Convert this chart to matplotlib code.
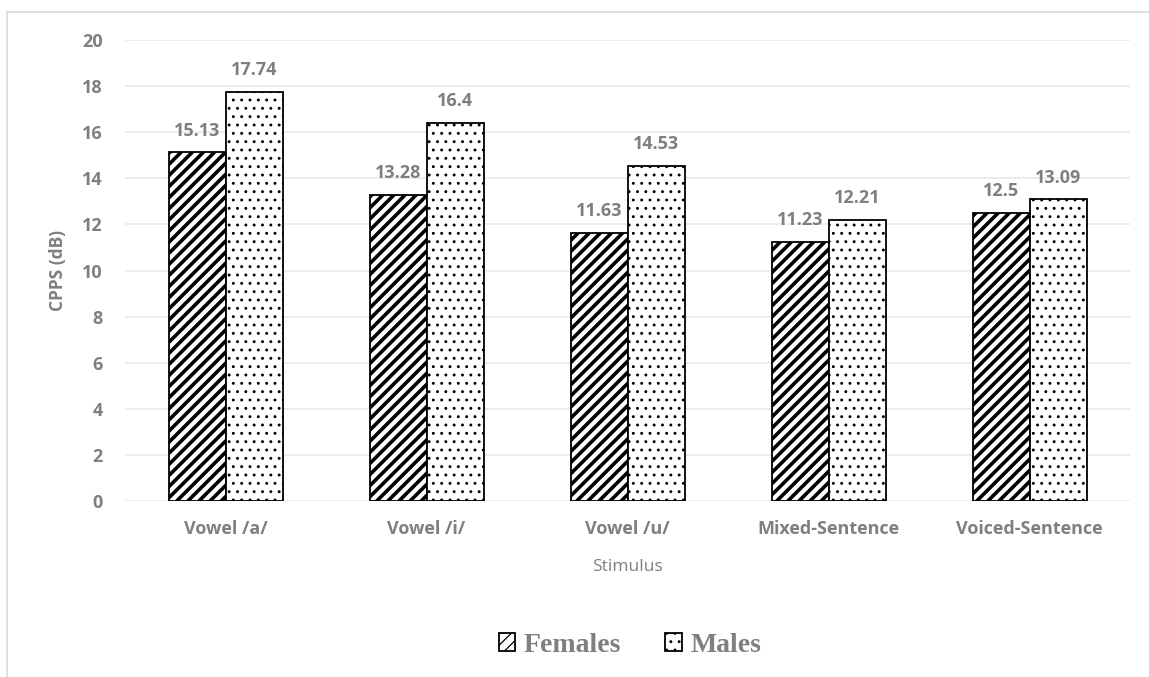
import matplotlib
matplotlib.use("Agg")
import matplotlib.pyplot as plt
from matplotlib.lines import Line2D
import numpy as np

categories = ["Vowel /a/", "Vowel /i/", "Vowel /u/", "Mixed-Sentence", "Voiced-Sentence"]
females = [15.13, 13.28, 11.63, 11.23, 12.5]
males = [17.74, 16.4, 14.53, 12.21, 13.09]
female_labels = ["15.13", "13.28", "11.63", "11.23", "12.5"]
male_labels = ["17.74", "16.4", "14.53", "12.21", "13.09"]
y_ticks = [0, 2, 4, 6, 8, 10, 12, 14, 16, 18, 20]

GRAY = "#7f7f7f"
TICKFONT = "Open Sans"

fig = plt.figure(figsize=(11.49, 6.77), dpi=100)
ax = fig.add_axes([125/1149, 1-501/677, (1130-125)/1149, (501-40)/677])

x = np.arange(len(categories))
w = 57/201

plt.rcParams['hatch.linewidth'] = 2.6
bf = ax.bar(x - w/2, females, w, facecolor="white", edgecolor="black",
            hatch="///", linewidth=1.3, label="Females", zorder=3)
plt.rcParams['hatch.linewidth'] = 0.9
bm = ax.bar(x + w/2, males, w, facecolor="white", edgecolor="black",
            hatch="..", linewidth=1.3, label="Males", zorder=3)

for rect, lab in zip(bf, female_labels):
    ax.annotate(lab, (rect.get_x() + rect.get_width()/2, rect.get_height()),
                xytext=(0, 12), textcoords="offset points", ha="center", va="baseline",
                fontsize=13, fontweight="bold", color=GRAY, family=TICKFONT)
for rect, lab in zip(bm, male_labels):
    ax.annotate(lab, (rect.get_x() + rect.get_width()/2, rect.get_height()),
                xytext=(0, 12), textcoords="offset points", ha="center", va="baseline",
                fontsize=13, fontweight="bold", color=GRAY, family=TICKFONT)

ax.set_xlim(-0.5, len(categories) - 0.5)
ax.set_ylim(0, 20)
ax.set_yticks(y_ticks)
ax.set_yticklabels([str(t) for t in y_ticks])
ax.set_xticks(x)
ax.set_xticklabels(categories)
for lab in ax.get_xticklabels() + ax.get_yticklabels():
    lab.set_fontsize(13)
    lab.set_fontweight("bold")
    lab.set_color(GRAY)
    lab.set_family(TICKFONT)
ax.tick_params(axis="y", length=0, pad=16)
ax.tick_params(axis="x", length=0, pad=14)
ax.grid(axis="y", color="#ececec", linewidth=1.4, zorder=0)
ax.set_axisbelow(True)
for s in ax.spines.values():
    s.set_visible(False)

ax.set_xlabel("Stimulus", fontsize=12.5, color=GRAY, family=TICKFONT, labelpad=15)
ax.set_ylabel("CPPS (dB)", fontsize=12.5, fontweight="bold", color=GRAY, family=TICKFONT, labelpad=11)

# chart border
fig.add_artist(Line2D([7/1149, 1], [1-11.7/677, 1-11.7/677], color="#d9d9d9", linewidth=1.2, transform=fig.transFigure))
fig.add_artist(Line2D([7.3/1149, 7.3/1149], [0, 1-11.7/677], color="#d9d9d9", linewidth=1.2, transform=fig.transFigure))

leg = fig.legend(handles=[bf, bm], labels=["Females", "Males"], loc="center",
                 bbox_to_anchor=(630/1149, 1-645/677), ncol=2, frameon=False,
                 handlelength=0.6, handleheight=0.6, handletextpad=0.3, columnspacing=1.6,
                 prop={"family": "Liberation Serif", "weight": "bold", "size": 20})
for t in leg.get_texts():
    t.set_color(GRAY)

fig.savefig("out.png", dpi=100)
